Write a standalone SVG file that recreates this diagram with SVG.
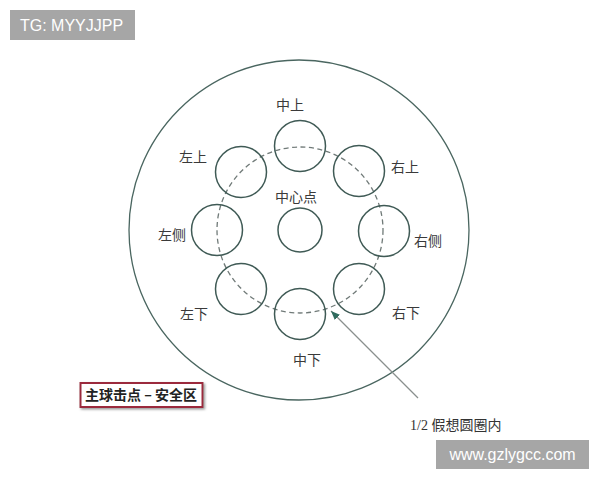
<svg xmlns="http://www.w3.org/2000/svg" width="600" height="480" viewBox="0 0 600 480">
<style>
.ring{fill:none;stroke:#3f5a55;stroke-width:1.5}
.lbl{font-family:"Noto Sans CJK SC","Noto Sans",sans-serif;font-size:14px;fill:#3a3a3a;text-anchor:middle}
.wm{font-family:"Liberation Sans",Arial,sans-serif;font-size:16px;fill:#ffffff}
</style>
<defs>
<marker id="ah" viewBox="0 0 10 10" refX="10" refY="5" markerWidth="9" markerHeight="9" markerUnits="userSpaceOnUse" orient="auto">
<path d="M0,1 L10,5 L0,9 Z" fill="#2f6b5e"/>
</marker>
<filter id="sh" x="-10%" y="-20%" width="130%" height="160%">
<feDropShadow dx="1.5" dy="1.5" stdDeviation="1" flood-color="#999"/>
</filter>
</defs>
<rect width="600" height="480" fill="#ffffff"/>
<g id="tg">
<rect x="10" y="10" width="125" height="30" fill="#a6a6a6"/>
<text class="wm" x="20" y="31">TG: MYYJJPP</text>
</g>
<g id="table">
<circle cx="299" cy="230" r="170" fill="none" stroke="#4a6660" stroke-width="1.3"/>
</g>
<g id="guide">
<circle cx="300" cy="230" r="83" fill="none" stroke="#707a78" stroke-width="1.3" stroke-dasharray="5,3.5"/>
</g>
<g id="center"><circle class="ring" cx="300" cy="230" r="22"/><text class="lbl" x="296" y="202">中心点</text></g>
<g id="top"><circle class="ring" cx="300" cy="146" r="25.5"/><text class="lbl" x="290" y="110">中上</text></g>
<g id="topright"><circle class="ring" cx="359" cy="171" r="25.5"/><text class="lbl" x="405" y="172">右上</text></g>
<g id="right"><circle class="ring" cx="384" cy="231" r="25.5"/><text class="lbl" x="428" y="246">右侧</text></g>
<g id="bottomright"><circle class="ring" cx="359" cy="289" r="25.5"/><text class="lbl" x="406" y="318">右下</text></g>
<g id="bottom"><circle class="ring" cx="300" cy="314" r="25.5"/><text class="lbl" x="307" y="365">中下</text></g>
<g id="bottomleft"><circle class="ring" cx="241" cy="289" r="25.5"/><text class="lbl" x="194" y="319">左下</text></g>
<g id="left"><circle class="ring" cx="217" cy="230" r="25.5"/><text class="lbl" x="172" y="240">左侧</text></g>
<g id="topleft"><circle class="ring" cx="241" cy="172" r="25.5"/><text class="lbl" x="193" y="162">左上</text></g>
<g id="connectors">
<line x1="418" y1="398" x2="331" y2="311" stroke="#8a8f8e" stroke-width="1.3" marker-end="url(#ah)"/>
</g>
<g id="safezone">
<rect x="80.5" y="383" width="122" height="24" fill="#ffffff" stroke="#9b2c3c" stroke-width="2" filter="url(#sh)"/>
<text x="141" y="400" font-family="'Noto Sans CJK SC',sans-serif" font-size="14" font-weight="bold" fill="#222" text-anchor="middle">主球击点 – 安全区</text>
</g>
<g id="note">
<text x="410" y="430" font-size="14" fill="#333"><tspan font-family="'Liberation Serif',serif">1/2 </tspan><tspan font-family="'Noto Sans CJK SC',sans-serif">假想圆圈内</tspan></text>
</g>
<g id="site">
<rect x="436" y="440" width="153" height="29" fill="#a6a6a6"/>
<text class="wm" x="512.5" y="460" text-anchor="middle">www.gzlygcc.com</text>
</g>
</svg>
